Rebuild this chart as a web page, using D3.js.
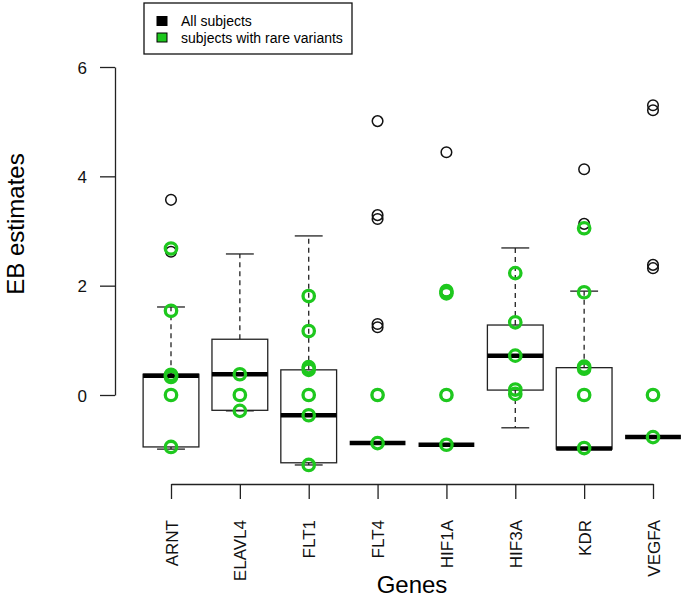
<!DOCTYPE html>
<html>
<head>
<meta charset="utf-8">
<script src="https://cdn.jsdelivr.net/npm/d3@7"></script>
<style>
  body { margin: 0; background: #fff; }
  svg { font-family: "Liberation Sans", Arial, sans-serif; }
  .axis path, .axis line { stroke: #222; stroke-width: 1.3; }
  .axis text { font-size: 17px; fill: #111; }
</style>
</head>
<body>
<svg width="685" height="602"></svg>
<script>
var genes = ["ARNT", "ELAVL4", "FLT1", "FLT4", "HIF1A", "HIF3A", "KDR", "VEGFA"];
var whiskerLow  = [-0.99, -0.29, -1.28, -0.88, -0.91, -0.60, -0.99, -0.77];
var q1          = [-0.95, -0.28, -1.24, -0.88, -0.91,  0.09, -0.99, -0.77];
var median      = [ 0.35,  0.38, -0.37, -0.88, -0.91,  0.72, -0.98, -0.77];
var q3          = [ 0.38,  1.02,  0.46, -0.88, -0.91,  1.28,  0.50, -0.77];
var whiskerHigh = [ 1.61,  2.58,  2.91, -0.88, -0.91,  2.69,  1.90, -0.77];

// black open circles = boxplot outliers (all subjects)
var outliers = [
  [3.57, 2.62],
  [],
  [],
  [5.01, 3.29, 3.22, 1.30, 1.24, 0.0],
  [4.44, 1.90, 1.86, 0.0],
  [],
  [4.13, 3.13],
  [5.30, 5.21, 2.38, 2.32, 0.0]
];

// green circles = subjects with rare variants
var rare = [
  [2.68, 1.54, 0.37, 0.35, 0.33, 0.0, -0.95],
  [0.38, 0.0, -0.29],
  [1.81, 1.17, 0.51, 0.46, 0.0, -0.37, -1.28],
  [0.0, -0.88],
  [1.90, 1.86, 0.0, -0.91],
  [2.23, 1.33, 0.72, 0.10, 0.02],
  [3.05, 1.88, 0.52, 0.48, 0.0, -0.97],
  [0.0, -0.77]
];

var yTicks = [0, 2, 4, 6];
var legendLabels = ["All subjects", "subjects with rare variants"];
var legendColors = ["#000000", "#1ec81e"];

var svg = d3.select("svg");
var green = "#1ec81e";

var x = d3.scalePoint().domain(genes).range([171, 653]);
var y = d3.scaleLinear().domain([0, 6]).range([395, 67]);
var boxW = x.step() * 0.81;
var capW = boxW / 2;

// axes
svg.append("g")
  .attr("class", "axis")
  .attr("transform", "translate(115,0)")
  .call(d3.axisLeft(y).tickValues(yTicks).tickFormat(d3.format("d"))
    .tickSize(15).tickSizeOuter(0).tickPadding(13))
  .selectAll("text").attr("dy", "0.36em");

var xAxis = svg.append("g")
  .attr("class", "axis")
  .attr("transform", "translate(0,484)")
  .call(d3.axisBottom(x).tickSize(15).tickSizeOuter(0));

xAxis.selectAll("text")
  .attr("transform", "rotate(-90)")
  .attr("text-anchor", "end")
  .attr("x", -36)
  .attr("y", 0)
  .attr("dy", "0.36em");

// boxes
var g = svg.append("g");
var idx = d3.range(genes.length);

var box = g.selectAll(".box")
  .data(idx)
  .enter().append("g")
  .attr("class", "box");

// dashed whiskers
box.append("line")
  .attr("x1", function(i) { return x(genes[i]); })
  .attr("x2", function(i) { return x(genes[i]); })
  .attr("y1", function(i) { return y(q3[i]); })
  .attr("y2", function(i) { return y(whiskerHigh[i]); })
  .attr("stroke", "#222").attr("stroke-width", 1.3)
  .attr("stroke-dasharray", "5,4");

box.append("line")
  .attr("x1", function(i) { return x(genes[i]); })
  .attr("x2", function(i) { return x(genes[i]); })
  .attr("y1", function(i) { return y(q1[i]); })
  .attr("y2", function(i) { return y(whiskerLow[i]); })
  .attr("stroke", "#222").attr("stroke-width", 1.3)
  .attr("stroke-dasharray", "5,4");

// caps
[whiskerHigh, whiskerLow].forEach(function(arr) {
  box.append("line")
    .attr("x1", function(i) { return x(genes[i]) - capW / 2; })
    .attr("x2", function(i) { return x(genes[i]) + capW / 2; })
    .attr("y1", function(i) { return y(arr[i]); })
    .attr("y2", function(i) { return y(arr[i]); })
    .attr("stroke", "#222").attr("stroke-width", 1.3);
});

box.append("rect")
  .attr("x", function(i) { return x(genes[i]) - boxW / 2; })
  .attr("y", function(i) { return y(q3[i]); })
  .attr("width", boxW)
  .attr("height", function(i) { return y(q1[i]) - y(q3[i]); })
  .attr("fill", "none")
  .attr("stroke", "#222").attr("stroke-width", 1.3);

box.append("line")
  .attr("x1", function(i) { return x(genes[i]) - boxW / 2; })
  .attr("x2", function(i) { return x(genes[i]) + boxW / 2; })
  .attr("y1", function(i) { return y(median[i]); })
  .attr("y2", function(i) { return y(median[i]); })
  .attr("stroke", "#000").attr("stroke-width", 4.5);

// outliers
idx.forEach(function(i) {
  g.selectAll(".out" + i)
    .data(outliers[i])
    .enter().append("circle")
    .attr("cx", x(genes[i]))
    .attr("cy", function(d) { return y(d); })
    .attr("r", 5.3)
    .attr("fill", "none")
    .attr("stroke", "#111")
    .attr("stroke-width", 1.5);
});

idx.forEach(function(i) {
  g.selectAll(".rare" + i)
    .data(rare[i])
    .enter().append("circle")
    .attr("cx", x(genes[i]))
    .attr("cy", function(d) { return y(d); })
    .attr("r", 5.7)
    .attr("fill", "none")
    .attr("stroke", green)
    .attr("stroke-width", 3.3);
});

// axis titles
svg.append("text")
  .attr("x", 412)
  .attr("y", 593)
  .attr("text-anchor", "middle")
  .style("font-size", "24px")
  .text("Genes");

svg.append("text")
  .attr("transform", "translate(24,224) rotate(-90)")
  .attr("text-anchor", "middle")
  .style("font-size", "24px")
  .text("EB estimates");

// legend
var legend = svg.append("g");
legend.append("rect")
  .attr("x", 144).attr("y", 3)
  .attr("width", 208).attr("height", 51)
  .attr("fill", "#fff")
  .attr("stroke", "#111").attr("stroke-width", 1.3);

var item = legend.selectAll(".item")
  .data(legendLabels)
  .enter().append("g")
  .attr("transform", function(d, i) { return "translate(0," + (21 + i * 16.5) + ")"; });

item.append("rect")
  .attr("x", 157).attr("y", -4.5)
  .attr("width", 10).attr("height", 9)
  .attr("fill", function(d, i) { return legendColors[i]; })
  .attr("stroke", "#000").attr("stroke-width", 1);

item.append("text")
  .attr("x", 181)
  .attr("dy", "0.36em")
  .style("font-size", "14px")
  .text(function(d) { return d; });
</script>
</body>
</html>
